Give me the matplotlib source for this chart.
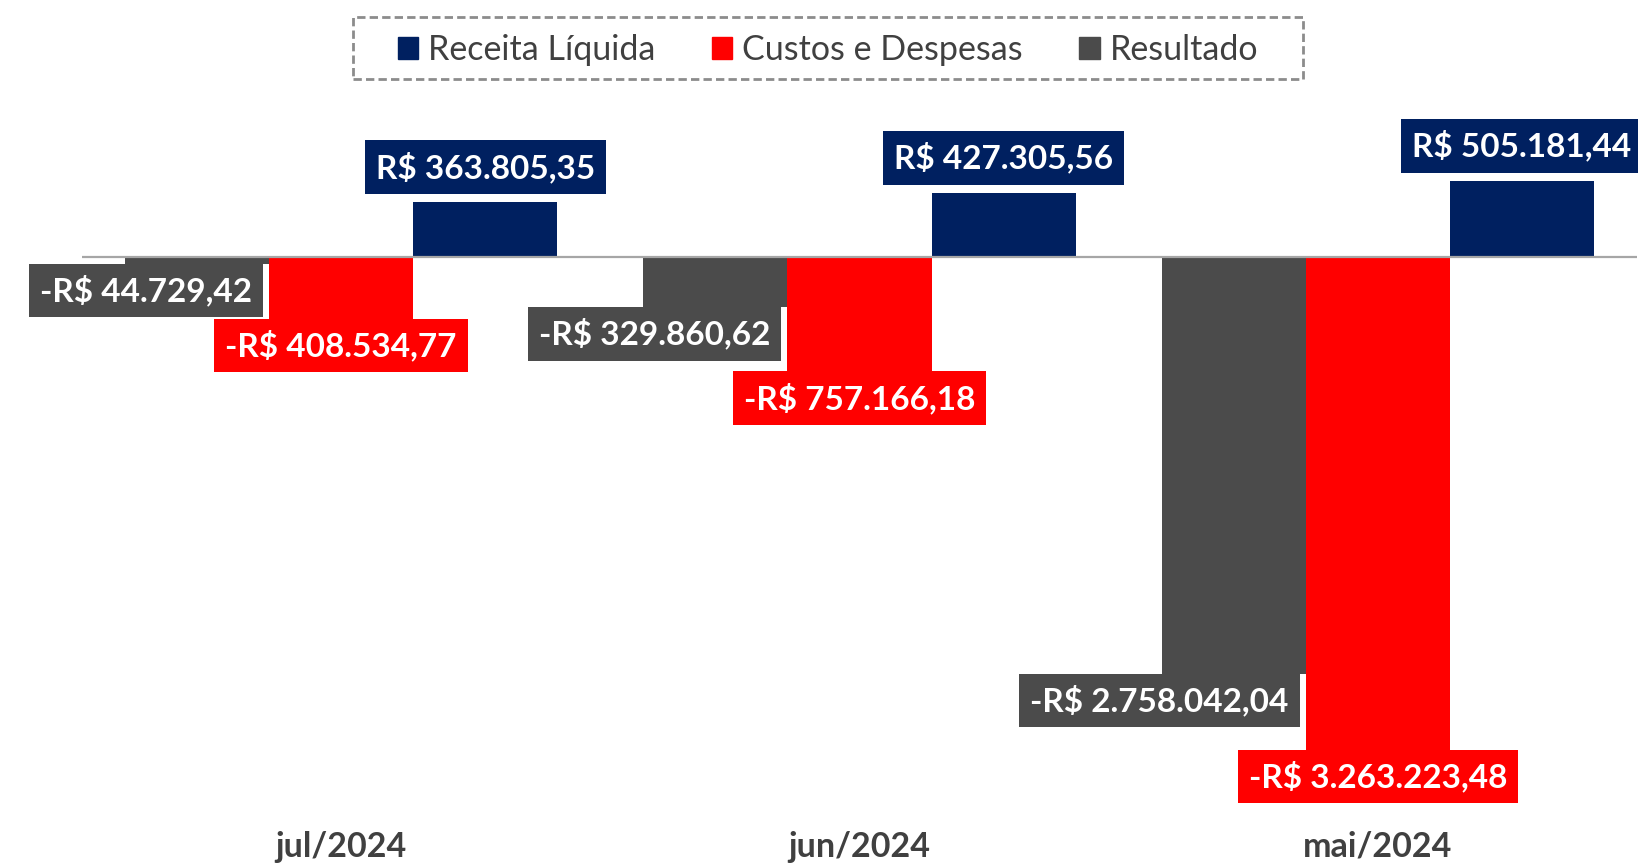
import matplotlib
matplotlib.use("Agg")
import matplotlib.pyplot as plt
from matplotlib.patches import Patch, Rectangle
import numpy as np

# dados (R$)
meses = ['jul/2024', 'jun/2024', 'mai/2024']
receita = [363805.35, 427305.56, 505181.44]
custos = [-408534.77, -757166.18, -3263223.48]
resultado = [-44729.42, -329860.62, -2758042.04]

c_rec = '#002060'
c_cus = '#FF0000'
c_res = '#4B4B4B'
c_txt = '#404040'

plt.rcParams['font.family'] = ['Lato', 'DejaVu Sans']


def brl(v):
    s = f"{abs(v):,.2f}".replace(',', '#').replace('.', ',').replace('#', '.')
    return ('-R$ ' if v < 0 else 'R$ ') + s


W, H = 1638, 864
fig = plt.figure(figsize=(W / 100, H / 100), dpi=100)
ax = fig.add_axes([82 / W, 54 / H, 1555 / W, 710 / H])

x = np.arange(len(meses))
w = 0.278
series = [(resultado, c_res, -w), (custos, c_cus, 0.0), (receita, c_rec, w)]
for vals, col, off in series:
    ax.bar(x + off, vals, width=w, color=col, zorder=2)

ax.axhline(0, color='#a6a6a6', lw=1.6, zorder=3)

fs = 24
pad = 11
for vals, col, off in series:
    for xi, v in zip(x, vals):
        box = dict(boxstyle=f'square,pad={pad / (fs * 100 / 72):.3f}', fc=col, ec='none')
        if v >= 0:
            ax.annotate(brl(v), (xi + off, v), xytext=(0, 8 + pad), textcoords='offset pixels',
                        ha='center', va='bottom', color='white', fontsize=fs, fontweight='bold',
                        bbox=box, zorder=5, annotation_clip=False)
        elif col == c_res:
            ax.annotate(brl(v), (xi + off + w / 2, v), xytext=(-pad - 6, -pad), textcoords='offset pixels',
                        ha='right', va='top', color='white', fontsize=fs, fontweight='bold',
                        bbox=box, zorder=5, annotation_clip=False)
        else:
            ax.annotate(brl(v), (xi + off, v), xytext=(0, -pad), textcoords='offset pixels',
                        ha='center', va='top', color='white', fontsize=fs, fontweight='bold',
                        bbox=box, zorder=6, annotation_clip=False)

ax.set_xlim(-0.5, 2.5)
ax.set_ylim(-3.662e6, 1.04e6)
ax.set_xticks(x)
ax.set_xticklabels(meses, fontsize=24.5, fontweight='bold', color=c_txt)
ax.tick_params(axis='x', length=0, pad=15)
ax.set_yticks([])
for s in ax.spines.values():
    s.set_visible(False)

handles = [Patch(color=c_rec, label='Receita Líquida'),
           Patch(color=c_cus, label='Custos e Despesas'),
           Patch(color=c_res, label='Resultado')]
leg = fig.legend(handles=handles, loc='center', bbox_to_anchor=(0.5055, 0.942), ncol=3,
                 fontsize=24.5, handlelength=0.6, handleheight=0.6, handletextpad=0.3,
                 columnspacing=1.65, frameon=False, labelcolor=c_txt)

# moldura tracejada da legenda
fig.patches.append(Rectangle((353 / W, 1 - 79 / H), 950 / W, 62 / H, transform=fig.transFigure,
                             fill=False, ec='#8c8c8c', lw=2, ls=(0, (3, 1.5))))

fig.savefig('out.png', dpi=100)
